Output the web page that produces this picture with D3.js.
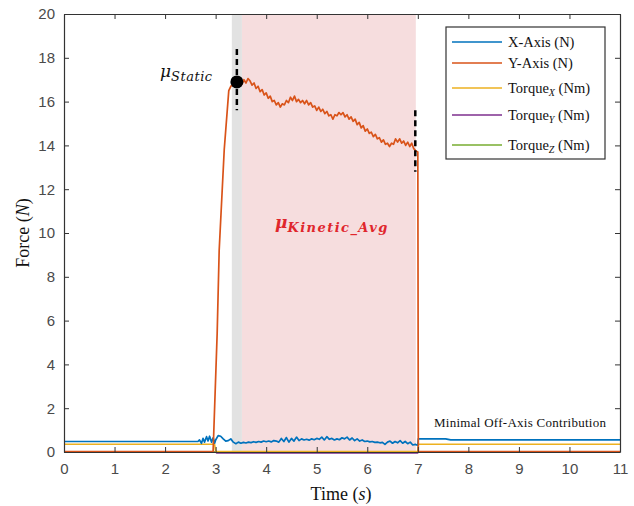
<!DOCTYPE html>
<html><head><meta charset="utf-8">
<script src="https://cdn.jsdelivr.net/npm/d3@7"></script>
<style>
html,body{margin:0;padding:0;background:#fff;}
svg{display:block;}
</style></head>
<body>
<svg id="chart" width="634" height="506"></svg>
<script>
// ---------- data ----------
const xTicks = [0,1,2,3,4,5,6,7,8,9,10,11];
const yTicks = [0,2,4,6,8,10,12,14,16,18,20];

const yAxisTime = [0,2.95,3.03,3.07,3.17,3.26,3.30,3.36,3.40,
3.44,3.48,3.52,3.56,3.60,3.64,3.68,3.72,3.76,3.80,3.84,3.88,3.92,3.96,4.00,4.04,4.08,4.12,4.16,4.20,4.24,4.28,4.32,4.36,4.40,4.44,4.48,4.52,4.56,4.60,4.64,4.68,4.72,4.76,4.80,4.84,4.88,4.92,4.96,5.00,5.04,5.08,5.12,5.16,5.20,5.24,5.28,5.32,5.36,5.40,5.44,5.48,5.52,5.56,5.60,5.64,5.68,5.72,5.76,5.80,5.84,5.88,5.92,5.96,6.00,6.04,6.08,6.12,6.16,6.20,6.24,6.28,6.32,6.36,6.40,6.44,6.48,6.52,6.56,6.60,6.64,6.68,6.72,6.76,6.80,6.84,6.88,6.92,6.96,7.00,7.01,11];
const yAxisForce = [0.02,0.02,5.4,9.2,13.8,16.5,16.7,16.8,16.9,
16.85,16.95,16.8,17.0,16.85,17.05,16.95,16.75,16.85,16.6,16.7,16.45,16.55,16.3,16.4,16.15,16.25,16.0,16.05,15.85,15.95,15.75,15.9,15.85,16.05,15.95,16.2,16.05,16.25,16.0,16.1,15.95,16.05,15.9,16.05,15.85,15.95,15.75,15.8,15.6,15.75,15.55,15.65,15.45,15.55,15.35,15.4,15.2,15.4,15.35,15.5,15.4,15.5,15.3,15.4,15.2,15.3,15.1,15.2,14.95,15.05,14.8,14.9,14.65,14.75,14.55,14.6,14.4,14.5,14.3,14.35,14.15,14.25,14.05,14.1,13.95,14.1,14.05,14.3,14.15,14.3,14.1,14.2,14.0,14.15,13.95,14.1,13.85,13.75,13.7,0.02,0.02];

const xAxisTime = [0,2.65,2.68,2.72,2.75,2.78,2.82,2.85,2.88,2.92,2.95,2.98,3.0,3.05,3.1,3.15,3.2,3.25,3.3,3.35,3.4,3.45,3.5,3.55,3.6,3.65,3.7,3.75,3.8,3.85,3.9,3.95,4.0,4.05,4.1,4.15,4.2,4.25,4.3,4.35,4.4,4.45,4.5,4.55,4.6,4.65,4.7,4.75,4.8,4.85,4.9,4.95,5.0,5.05,5.1,5.15,5.2,5.25,5.3,5.35,5.4,5.45,5.5,5.55,5.6,5.65,5.7,5.75,5.8,5.85,5.9,5.95,6.0,6.05,6.1,6.15,6.2,6.25,6.3,6.35,6.4,6.45,6.5,6.55,6.6,6.65,6.7,6.75,6.8,6.85,6.9,6.95,7.0,7.01,7.55,7.65,11];
const xAxisForce = [0.48,0.48,0.55,0.4,0.62,0.45,0.7,0.5,0.72,0.45,0.65,0.4,0.55,0.75,0.72,0.6,0.5,0.52,0.6,0.45,0.38,0.45,0.4,0.44,0.41,0.45,0.43,0.47,0.44,0.48,0.45,0.5,0.47,0.5,0.46,0.52,0.5,0.45,0.62,0.48,0.66,0.45,0.62,0.5,0.68,0.52,0.6,0.55,0.58,0.54,0.6,0.56,0.62,0.58,0.68,0.55,0.7,0.58,0.62,0.55,0.6,0.56,0.65,0.6,0.68,0.55,0.64,0.52,0.6,0.5,0.55,0.48,0.5,0.46,0.48,0.44,0.45,0.42,0.44,0.35,0.45,0.5,0.4,0.48,0.42,0.52,0.4,0.48,0.38,0.45,0.32,0.35,0.3,0.6,0.6,0.55,0.55];

const torqueXTime = [0,2.98,3.0,7.0,7.01,11];
const torqueXVal  = [0.35,0.35,0.02,0.02,0.35,0.35];
const torqueYTime = [0,3.0,3.02,7.0,7.01,11];
const torqueYVal  = [0,0,-0.04,-0.04,0,0];
const torqueZTime = [0,11];
const torqueZVal  = [0,0];

const staticRegion = [3.32, 3.52];
const kineticRegion = [3.52, 6.96];
const staticPoint = [3.42, 16.9];
const staticDash = [3.42, 18.4, 15.6];
const endDash = [6.95, 15.6, 12.8];

const legendNames = ["X-Axis (N)","Y-Axis (N)","Torque","Torque","Torque"];
const legendSubs = ["","","X","Y","Z"];
const legendUnits = ["","","(Nm)","(Nm)","(Nm)"];
const colors = ["#0072BD","#D95319","#EDB120","#7E2F8E","#77AC30"];

// ---------- layout ----------
const svg = d3.select("#chart");
const L = 64, R = 620, T = 14, B = 452;
const x = d3.scaleLinear().domain([0,11]).range([L,R]);
const y = d3.scaleLinear().domain([0,20]).range([B,T]);

// regions
svg.append("rect").attr("x", x(kineticRegion[0])).attr("y", T)
  .attr("width", x(kineticRegion[1]) - x(kineticRegion[0])).attr("height", B - T)
  .attr("fill", "#F6DDDE");
svg.append("rect").attr("x", x(staticRegion[0])).attr("y", T)
  .attr("width", x(staticRegion[1]) - x(staticRegion[0])).attr("height", B - T)
  .attr("fill", "#E2E2E2");

const line = d3.line().x(d => x(d[0])).y(d => y(d[1]));
const zip = (a, b) => a.map((v, i) => [v, b[i]]);

const series = [
  zip(torqueYTime, torqueYVal),
  zip(torqueZTime, torqueZVal),
  zip(torqueXTime, torqueXVal),
  zip(xAxisTime, xAxisForce),
  zip(yAxisTime, yAxisForce)
];
const seriesColors = [colors[3], colors[4], colors[2], colors[0], colors[1]];
const seriesWidths = [1.5, 1.5, 1.5, 1.7, 1.7];
series.forEach((s, i) => {
  svg.append("path").attr("d", line(s)).attr("fill", "none")
    .attr("stroke", seriesColors[i]).attr("stroke-width", seriesWidths[i])
    .attr("stroke-linejoin", "round");
});

// axes (MATLAB box style, ticks inside)
const axColor = "#333";
const tickFont = "'Liberation Sans', Arial, sans-serif";
const gx = svg.append("g").attr("transform", `translate(0,${B})`)
  .call(d3.axisBottom(x).tickValues(xTicks).tickSizeInner(-5).tickSizeOuter(0).tickPadding(11));
const gxTop = svg.append("g").attr("transform", `translate(0,${T})`)
  .call(d3.axisTop(x).tickValues(xTicks).tickSizeInner(-5).tickSizeOuter(0).tickFormat(""));
const gy = svg.append("g").attr("transform", `translate(${L},0)`)
  .call(d3.axisLeft(y).tickValues(yTicks).tickSizeInner(-5).tickSizeOuter(0).tickPadding(9));
const gyR = svg.append("g").attr("transform", `translate(${R},0)`)
  .call(d3.axisRight(y).tickValues(yTicks).tickSizeInner(-5).tickSizeOuter(0).tickFormat(""));
[gx, gxTop, gy, gyR].forEach(g => {
  g.select(".domain").attr("stroke", axColor).attr("stroke-width", 1.2);
  g.selectAll(".tick line").attr("stroke", axColor).attr("stroke-width", 1);
  g.selectAll(".tick text").attr("fill", "#4a4a4a").style("font-family", tickFont).style("font-size", "15px");
});

// axis labels
const serif = "'Liberation Serif', 'Times New Roman', serif";
const xl = svg.append("text").attr("x", 341).attr("y", 500).attr("text-anchor", "middle")
  .style("font-family", serif).style("font-size", "18px").attr("fill", "#111");
xl.append("tspan").text("Time (");
xl.append("tspan").text("s").style("font-style", "italic");
xl.append("tspan").text(")");
const yl = svg.append("text").attr("transform", `translate(29,233) rotate(-90)`).attr("text-anchor", "middle")
  .style("font-family", serif).style("font-size", "18px").attr("fill", "#111");
yl.append("tspan").text("Force (");
yl.append("tspan").text("N").style("font-style", "italic");
yl.append("tspan").text(")");

// dashed markers
[staticDash, endDash].forEach(d => {
  svg.append("line").attr("x1", x(d[0])).attr("x2", x(d[0]))
    .attr("y1", y(d[1])).attr("y2", y(d[2]))
    .attr("stroke", "#000").attr("stroke-width", 2.5).attr("stroke-dasharray", "6,4");
});
svg.append("circle").attr("cx", x(staticPoint[0])).attr("cy", y(staticPoint[1])).attr("r", 6.5).attr("fill", "#000");

// annotations
const mathFont = "'DejaVu Serif', serif";
const ms = svg.append("text").attr("x", 160).attr("y", 77).attr("fill", "#111").style("font-family", mathFont);
ms.append("tspan").text("μ").style("font-size", "17px").style("font-style", "italic");
ms.append("tspan").text("Static").attr("dy", 4).style("font-size", "13px").style("font-style", "italic").attr("textLength", 41);

const mk = svg.append("text").attr("x", 275).attr("y", 228).attr("fill", "#E0262C").style("font-family", mathFont).style("font-weight", "bold");
mk.append("tspan").text("μ").style("font-size", "17px").style("font-style", "italic");
mk.append("tspan").text("Kinetic_Avg").attr("dy", 4).style("font-size", "13px").style("font-style", "italic").attr("textLength", 100);

svg.append("text").attr("x", 434).attr("y", 427).text("Minimal Off-Axis Contribution")
  .style("font-family", serif).style("font-size", "13px").attr("fill", "#111").attr("textLength", 172);

// legend
const lg = svg.append("g");
lg.append("rect").attr("x", 446).attr("y", 27).attr("width", 159).attr("height", 132)
  .attr("fill", "#fff").attr("stroke", "#333").attr("stroke-width", 1.2);
const legY = [42, 63, 88, 115, 145];
legendNames.forEach((n, i) => {
  lg.append("line").attr("x1", 452).attr("x2", 502).attr("y1", legY[i]).attr("y2", legY[i])
    .attr("stroke", colors[i]).attr("stroke-width", 1.5);
  const t = lg.append("text").attr("x", 508).attr("y", legY[i] + 5)
    .style("font-family", serif).style("font-size", "14.5px").attr("fill", "#111");
  t.append("tspan").text(n);
  if (legendSubs[i]) {
    t.append("tspan").text(legendSubs[i]).attr("dy", 3).style("font-size", "10px").style("font-style", "italic");
    t.append("tspan").text(" " + legendUnits[i]).attr("dy", -3);
  }
});
</script>
</body></html>
